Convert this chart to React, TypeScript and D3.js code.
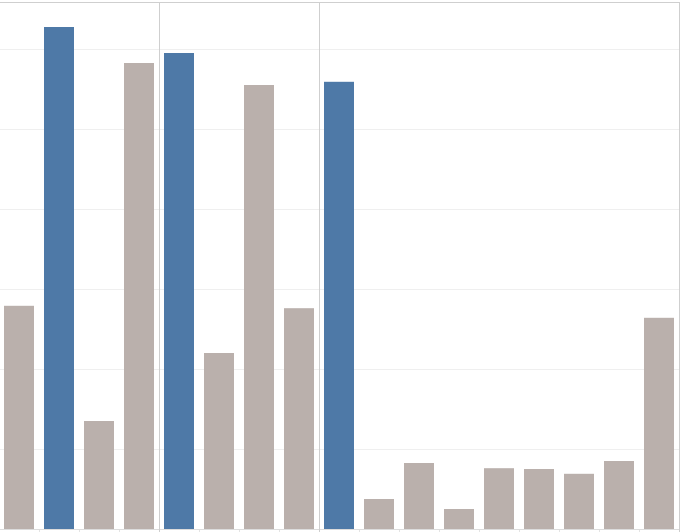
import React, { useEffect, useRef } from 'react';
import * as d3 from 'd3';

// bar values (one unit = 1/10 of a gridline step)
const categories = ['a1', 'a2', 'a3', 'a4', 'b1', 'b2', 'b3', 'b4', 'c1', 'c2', 'c3', 'c4', 'c5', 'c6', 'c7', 'c8', 'c9'];
const values = [27.9, 62.75, 13.5, 58.25, 59.5, 22, 55.5, 27.6, 55.9, 3.75, 8.25, 2.5, 7.6, 7.5, 6.9, 8.5, 26.4];
const highlighted = ['a2', 'b1', 'c1'];
const groupSizes = [4, 4, 9];
const gridTicks = [10, 20, 30, 40, 50, 60];

const W = 681;
const H = 532;

export default function App() {
  const ref = useRef<SVGSVGElement>(null);

  useEffect(() => {
    if (!ref.current) return;
    document.body.style.margin = '0';
    const svg = d3.select(ref.current);
    svg.selectAll('*').remove();

    const x = d3.scaleBand<string>()
      .domain(categories)
      .range([-1, 679])
      .paddingInner(0.25)
      .paddingOuter(0.125);
    const y = d3.scaleLinear().domain([0, 60]).range([529, 49]);

    // gridlines
    svg.append('g')
      .selectAll('line')
      .data(gridTicks)
      .join('line')
      .attr('x1', 0)
      .attr('x2', 679)
      .attr('y1', d => Math.round(y(d)) + 0.5)
      .attr('y2', d => Math.round(y(d)) + 0.5)
      .attr('stroke', '#efefef');

    // bars
    svg.append('g')
      .selectAll('rect')
      .data(categories)
      .join('rect')
      .attr('x', d => x(d)!)
      .attr('width', x.bandwidth())
      .attr('y', (d, i) => y(values[i]))
      .attr('height', (d, i) => y(0) - y(values[i]))
      .attr('fill', d => (highlighted.includes(d) ? '#4e79a7' : '#bab0ac'));

    // frame: top, right, baseline
    svg.append('line').attr('x1', 0).attr('x2', 680).attr('y1', 2.5).attr('y2', 2.5).attr('stroke', '#cfcfcf');
    svg.append('line').attr('x1', 679.5).attr('x2', 679.5).attr('y1', 2).attr('y2', 532).attr('stroke', '#cfcfcf');
    svg.append('line').attr('x1', 0).attr('x2', 679).attr('y1', 529.5).attr('y2', 529.5).attr('stroke', '#dcdcdc');

    // small ticks between bars
    const step = x.step();
    svg.append('g')
      .selectAll('line')
      .data(categories.slice(1))
      .join('line')
      .attr('x1', d => Math.round(x(d)! - (step - x.bandwidth()) / 2) + 0.5)
      .attr('x2', d => Math.round(x(d)! - (step - x.bandwidth()) / 2) + 0.5)
      .attr('y1', 530)
      .attr('y2', 532)
      .attr('stroke', '#e4e4e4');

    // group separators
    const boundaries = d3.cumsum(groupSizes).slice(0, -1);
    svg.append('g')
      .selectAll('line')
      .data(Array.from(boundaries))
      .join('line')
      .attr('x1', i => Math.floor(x(categories[i])! - (step - x.bandwidth()) / 2) + 0.5)
      .attr('x2', i => Math.floor(x(categories[i])! - (step - x.bandwidth()) / 2) + 0.5)
      .attr('y1', 2)
      .attr('y2', 532)
      .attr('stroke', '#cfcfcf');
  }, []);

  return (
    <svg
      ref={ref}
      width={W}
      height={H}
      style={{ position: 'absolute', left: 0, top: 0, background: '#fff' }}
    />
  );
}
